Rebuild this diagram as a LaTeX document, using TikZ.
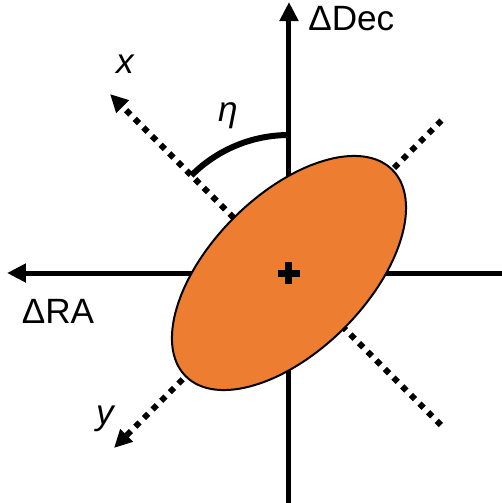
\documentclass[tikz,border=0pt]{standalone}
\usepackage{fontspec}
\setmainfont{Liberation Sans}
\usetikzlibrary{arrows.meta}
\definecolor{ellorange}{HTML}{ED7D31}
\begin{document}
\begin{tikzpicture}[x=1cm,y=1cm,
        axisline/.style={line width=0.1cm,-{Triangle[length=0.38cm,width=0.36cm]}},
        dotline/.style={line width=0.12cm,dash pattern=on 0.12cm off 0.124cm},
        dotarrow/.style={dotline,-{Triangle[length=0.36cm,width=0.34cm]}},
        lbl/.style={font=\fontsize{20}{24}\selectfont,inner sep=0pt}]
            \useasboundingbox (-5.78,-4.60) rectangle (4.26,5.46);
            \coordinate (o) at (0,0);
            \coordinate (decbot) at (0,-4.7);
            \coordinate (dectop) at (0,5.42);
            \coordinate (raright) at (4.3,0);
            \coordinate (raleft) at (-5.64,0);
            \coordinate (xtip) at (-3.58,3.58);
            \coordinate (xend) at (3.04,-3.04);
            \coordinate (ytip) at (-3.5,-3.5);
            \coordinate (yend) at (3.05,3.05);
            % axes
            \draw[axisline] (decbot) -- (dectop);
            \draw[axisline] (raright) -- (raleft);
            \draw[dotarrow] (xend) -- (xtip);
            \draw[dotarrow] (yend) -- (ytip);
            % error ellipse
            \fill[ellorange,rotate=45] (o) ellipse (2.92cm and 1.56cm);
            \draw[black,line width=0.04cm,rotate=45] (o) ellipse (2.92cm and 1.56cm);
            \draw[line width=0.14cm] (-0.22,0) -- (0.22,0) (0,-0.22) -- (0,0.22);
            % position angle
            \draw[line width=0.12cm] (0,2.76) arc[start angle=90,end angle=135,radius=2.76];
            \node[lbl] (eta) at (-1.22,3.14) {\itshape η};
            \node[lbl] (xlbl) at (-3.28,4.18) {\itshape x};
            \node[lbl] (ylbl) at (-3.68,-2.92) {\itshape y};
            \node[lbl,anchor=west] (declbl) at (0.38,5.08) {ΔDec};
            \node[lbl] (ralbl) at (-4.62,-0.76) {ΔRA};
        \end{tikzpicture}
\end{document}
